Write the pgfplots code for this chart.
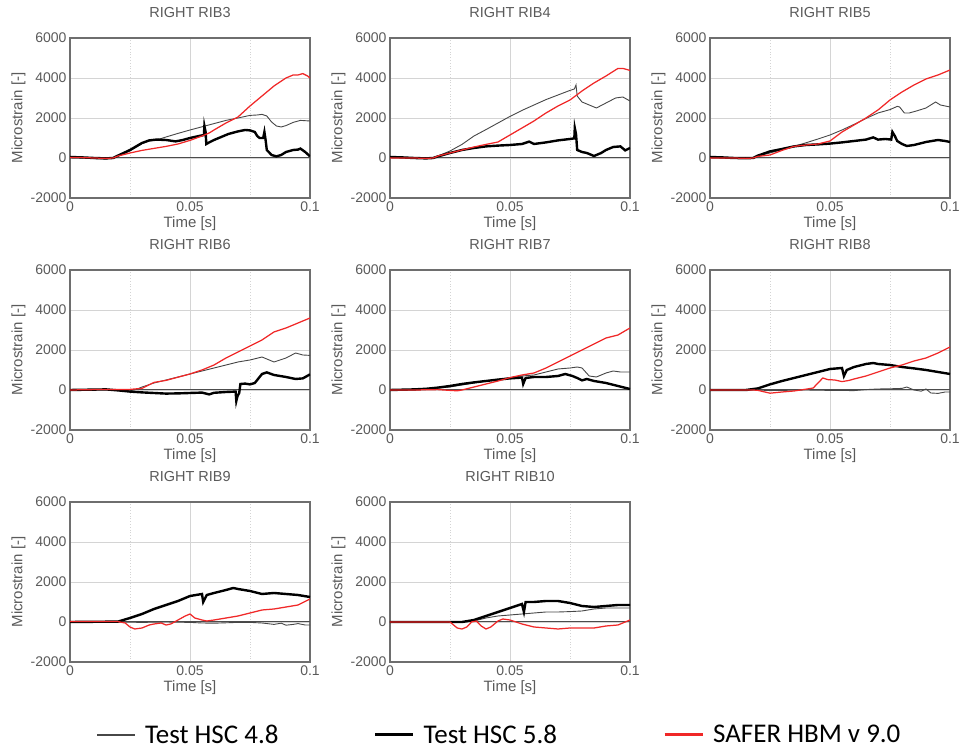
\documentclass[border=0pt]{standalone}
\usepackage{pgfplots}
\pgfplotsset{compat=1.18}
\usepackage{fontspec}
\setmainfont{Liberation Sans}
\newfontfamily\legfont{Carlito}
\definecolor{txtgray}{HTML}{5A5A5A}
\definecolor{framegray}{HTML}{6E6E6E}
\definecolor{gridgray}{HTML}{D4D4D4}
\definecolor{safer}{RGB}{240,40,40}
\pgfplotsset{
  rib/.style={
    scale only axis, width=240pt, height=160pt,
    xmin=0, xmax=0.1, ymin=-2000, ymax=6000,
    xtick={0,0.05,0.1}, xticklabels={0,0.05,0.1},
    ytick={-2000,0,2000,4000,6000}, yticklabels={-2000,0,2000,4000,6000},
    minor x tick num=1,
    major tick length=0pt, minor tick length=0pt,
    grid=both,
    major grid style={gridgray, line width=0.7pt},
    minor grid style={gridgray, line width=0.8pt, dotted},
    extra y ticks={0}, extra y tick labels={},
    extra y tick style={grid=major, major grid style={black!70, line width=1pt}},
    axis line style={framegray, line width=1.3pt},
    tick label style={txtgray, font=\fontsize{14}{16}\selectfont},
    label style={txtgray, font=\fontsize{15}{17}\selectfont},
    title style={txtgray, font=\fontsize{14.5}{17}\selectfont, at={(axis description cs:0.5,1.12)}, anchor=center},
    xlabel={Time [s]}, ylabel={Microstrain [-]},
    xlabel style={at={(axis description cs:0.5,-0.16)}, anchor=center},
    ylabel style={at={(axis description cs:-0.215,0.5)}, anchor=center},
    anchor=south west,
    clip=true,
  },
  thin/.style={draw=black!72, line width=0.9pt},
  thick/.style={draw=black, line width=2.4pt},
  red/.style={draw=safer, line width=1.25pt},
}
\begin{document}
\begin{tikzpicture}
\useasboundingbox (0pt,0pt) rectangle (962pt,751pt);

% ---------- RIGHT RIB3 ----------
\begin{axis}[rib, at={(70pt,553pt)}, title={RIGHT RIB3}]
\addplot[thin] coordinates {(0,0)(0.005,10)(0.01,-30)(0.015,-50)(0.018,0)(0.02,100)(0.025,350)(0.03,720)(0.033,850)(0.036,900)(0.04,1050)(0.045,1230)(0.05,1400)(0.055,1560)(0.06,1720)(0.065,1880)(0.07,2000)(0.075,2130)(0.078,2150)(0.08,2180)(0.082,2100)(0.084,1800)(0.086,1600)(0.088,1550)(0.09,1620)(0.093,1780)(0.096,1880)(0.1,1850)};
\addplot[thick] coordinates {(0,50)(0.005,30)(0.01,0)(0.015,-20)(0.018,0)(0.02,120)(0.025,400)(0.03,750)(0.033,880)(0.036,920)(0.04,900)(0.044,830)(0.047,900)(0.05,1000)(0.053,1080)(0.0558,1150)(0.056,1600)(0.0565,1300)(0.0568,700)(0.058,780)(0.06,900)(0.063,1050)(0.066,1200)(0.07,1330)(0.073,1400)(0.075,1380)(0.077,1300)(0.078,1100)(0.079,1000)(0.0805,1000)(0.081,1300)(0.0815,900)(0.082,400)(0.084,150)(0.086,80)(0.088,150)(0.09,300)(0.093,400)(0.095,420)(0.096,470)(0.098,300)(0.1,80)};
\addplot[red] coordinates {(0,30)(0.005,20)(0.01,0)(0.015,-20)(0.018,0)(0.02,100)(0.025,250)(0.03,380)(0.035,480)(0.04,580)(0.045,700)(0.05,880)(0.055,1100)(0.058,1250)(0.06,1400)(0.065,1750)(0.07,2050)(0.075,2600)(0.08,3100)(0.085,3600)(0.09,4000)(0.093,4150)(0.095,4150)(0.097,4220)(0.099,4100)(0.1,4000)};
\end{axis}

% ---------- RIGHT RIB4 ----------
\begin{axis}[rib, at={(390pt,553pt)}, title={RIGHT RIB4}]
\addplot[thin] coordinates {(0,50)(0.005,20)(0.01,-10)(0.015,-20)(0.018,0)(0.02,100)(0.025,350)(0.03,680)(0.035,1100)(0.04,1420)(0.045,1750)(0.05,2080)(0.055,2380)(0.06,2650)(0.065,2920)(0.07,3150)(0.075,3380)(0.0768,3450)(0.0775,3650)(0.078,3100)(0.08,2800)(0.083,2650)(0.086,2500)(0.09,2750)(0.094,3000)(0.097,3050)(0.1,2850)};
\addplot[thick] coordinates {(0,50)(0.005,30)(0.01,0)(0.015,-20)(0.018,0)(0.02,80)(0.025,250)(0.03,400)(0.035,500)(0.04,580)(0.045,620)(0.05,650)(0.055,700)(0.058,820)(0.06,700)(0.065,780)(0.07,880)(0.075,950)(0.0768,980)(0.077,1500)(0.0775,1200)(0.078,400)(0.08,300)(0.082,250)(0.085,100)(0.088,250)(0.09,400)(0.093,550)(0.096,580)(0.098,380)(0.1,500)};
\addplot[red] coordinates {(0,0)(0.005,0)(0.01,0)(0.015,-20)(0.018,0)(0.02,100)(0.025,250)(0.03,400)(0.035,550)(0.04,680)(0.045,800)(0.05,1150)(0.055,1500)(0.06,1850)(0.065,2250)(0.07,2600)(0.075,2900)(0.08,3350)(0.085,3750)(0.09,4100)(0.095,4480)(0.097,4480)(0.1,4380)};
\end{axis}

% ---------- RIGHT RIB5 ----------
\begin{axis}[rib, at={(710pt,553pt)}, title={RIGHT RIB5}]
\addplot[thin] coordinates {(0,0)(0.01,0)(0.015,-10)(0.018,0)(0.02,100)(0.025,250)(0.03,420)(0.035,580)(0.04,760)(0.045,950)(0.05,1150)(0.055,1400)(0.06,1680)(0.065,1980)(0.07,2250)(0.075,2420)(0.078,2580)(0.079,2550)(0.081,2250)(0.083,2250)(0.086,2350)(0.09,2500)(0.092,2650)(0.094,2800)(0.096,2650)(0.1,2550)};
\addplot[thick] coordinates {(0,50)(0.005,30)(0.01,0)(0.015,-10)(0.018,0)(0.02,120)(0.025,330)(0.03,450)(0.035,580)(0.04,650)(0.045,680)(0.05,720)(0.055,780)(0.06,850)(0.065,920)(0.068,1030)(0.07,920)(0.073,950)(0.0755,920)(0.076,1300)(0.077,1100)(0.078,850)(0.08,700)(0.082,600)(0.085,650)(0.09,800)(0.095,900)(0.098,850)(0.1,800)};
\addplot[red] coordinates {(0,0)(0.01,0)(0.015,-20)(0.018,0)(0.02,80)(0.025,150)(0.03,380)(0.035,580)(0.04,650)(0.045,700)(0.05,850)(0.055,1300)(0.06,1650)(0.065,2000)(0.07,2400)(0.075,2900)(0.08,3300)(0.085,3650)(0.09,3950)(0.095,4150)(0.1,4400)};
\end{axis}

% ---------- RIGHT RIB6 ----------
\begin{axis}[rib, at={(70pt,321pt)}, title={RIGHT RIB6}]
\addplot[thin] coordinates {(0,0)(0.01,20)(0.015,30)(0.02,0)(0.025,-50)(0.028,50)(0.03,150)(0.035,350)(0.04,500)(0.045,650)(0.05,800)(0.055,950)(0.06,1100)(0.065,1250)(0.07,1400)(0.075,1500)(0.08,1650)(0.082,1550)(0.085,1400)(0.09,1600)(0.094,1850)(0.097,1750)(0.1,1730)};
\addplot[thick] coordinates {(0,0)(0.01,20)(0.015,30)(0.02,-20)(0.025,-80)(0.03,-120)(0.035,-150)(0.04,-180)(0.045,-170)(0.05,-150)(0.055,-130)(0.058,-220)(0.06,-140)(0.065,-100)(0.069,-80)(0.0693,-550)(0.0698,-300)(0.0705,-150)(0.071,300)(0.073,320)(0.075,280)(0.077,350)(0.078,500)(0.08,800)(0.082,880)(0.085,750)(0.09,650)(0.094,550)(0.097,580)(0.1,780)};
\addplot[red] coordinates {(0,0)(0.01,20)(0.02,30)(0.025,30)(0.03,80)(0.035,380)(0.04,480)(0.045,640)(0.05,800)(0.055,1000)(0.06,1250)(0.065,1600)(0.07,1900)(0.075,2200)(0.08,2500)(0.085,2900)(0.09,3100)(0.095,3350)(0.1,3600)};
\end{axis}

% ---------- RIGHT RIB7 ----------
\begin{axis}[rib, at={(390pt,321pt)}, title={RIGHT RIB7}]
\addplot[thin] coordinates {(0,0)(0.01,0)(0.02,100)(0.025,150)(0.03,250)(0.035,350)(0.04,450)(0.045,520)(0.05,620)(0.055,700)(0.06,750)(0.065,900)(0.07,1050)(0.075,1100)(0.078,1150)(0.08,1100)(0.083,700)(0.086,650)(0.09,850)(0.093,950)(0.096,900)(0.1,900)};
\addplot[thick] coordinates {(0,0)(0.01,30)(0.015,60)(0.02,120)(0.025,200)(0.03,300)(0.035,380)(0.04,450)(0.045,520)(0.05,580)(0.055,620)(0.0555,300)(0.0565,600)(0.06,650)(0.065,650)(0.07,700)(0.073,800)(0.076,700)(0.078,600)(0.08,480)(0.082,550)(0.085,450)(0.09,350)(0.095,200)(0.1,50)};
\addplot[red] coordinates {(0,0)(0.01,0)(0.02,20)(0.025,-20)(0.028,-40)(0.03,0)(0.035,150)(0.04,300)(0.045,450)(0.05,620)(0.055,750)(0.06,850)(0.065,1100)(0.07,1400)(0.075,1700)(0.08,2000)(0.085,2300)(0.09,2600)(0.095,2750)(0.1,3100)};
\end{axis}

% ---------- RIGHT RIB8 ----------
\begin{axis}[rib, at={(710pt,321pt)}, title={RIGHT RIB8}]
\addplot[thin] coordinates {(0,0)(0.02,0)(0.025,-30)(0.03,-20)(0.04,0)(0.05,-20)(0.06,-30)(0.065,20)(0.07,50)(0.075,60)(0.08,80)(0.082,150)(0.085,0)(0.088,-60)(0.09,50)(0.092,-150)(0.095,-170)(0.098,-100)(0.1,-100)};
\addplot[thick] coordinates {(0,0)(0.015,0)(0.02,80)(0.025,280)(0.03,450)(0.035,600)(0.04,750)(0.045,900)(0.05,1050)(0.055,1100)(0.0558,700)(0.057,1000)(0.06,1150)(0.065,1300)(0.068,1350)(0.07,1300)(0.075,1250)(0.08,1150)(0.085,1080)(0.09,1000)(0.095,900)(0.1,800)};
\addplot[red] coordinates {(0,0)(0.018,0)(0.02,-20)(0.025,-160)(0.03,-100)(0.035,-50)(0.04,40)(0.043,100)(0.045,350)(0.047,600)(0.049,520)(0.052,500)(0.055,420)(0.058,480)(0.06,550)(0.065,700)(0.07,900)(0.075,1100)(0.08,1250)(0.085,1450)(0.09,1600)(0.095,1850)(0.1,2150)};
\end{axis}

% ---------- RIGHT RIB9 ----------
\begin{axis}[rib, at={(70pt,89pt)}, title={RIGHT RIB9}]
\addplot[thin] coordinates {(0,0)(0.02,0)(0.03,-20)(0.04,0)(0.05,-20)(0.055,-50)(0.06,-60)(0.065,-40)(0.07,-20)(0.075,-20)(0.08,-50)(0.085,-120)(0.088,-60)(0.09,-160)(0.093,-120)(0.095,-80)(0.098,-150)(0.1,-150)};
\addplot[thick] coordinates {(0,0)(0.02,20)(0.025,200)(0.03,400)(0.035,650)(0.04,850)(0.045,1050)(0.05,1300)(0.055,1400)(0.0555,1000)(0.057,1350)(0.06,1450)(0.065,1600)(0.068,1700)(0.07,1650)(0.075,1550)(0.08,1400)(0.085,1450)(0.09,1400)(0.095,1350)(0.1,1250)};
\addplot[red] coordinates {(0,30)(0.018,30)(0.02,20)(0.023,-50)(0.025,-250)(0.027,-350)(0.03,-300)(0.033,-150)(0.035,-100)(0.038,-50)(0.04,-150)(0.042,-100)(0.045,100)(0.048,300)(0.05,400)(0.052,200)(0.055,100)(0.057,50)(0.06,100)(0.065,200)(0.07,300)(0.075,450)(0.08,600)(0.085,650)(0.09,750)(0.095,850)(0.1,1150)};
\end{axis}

% ---------- RIGHT RIB10 ----------
\begin{axis}[rib, at={(390pt,89pt)}, title={RIGHT RIB10},
  legend columns=3,
  legend image code/.code={\draw[#1] (0pt,0pt) -- (38pt,0pt); \path (45pt,0pt);},
  legend style={draw=none, fill=none, at={(axis description cs:-1.235,-0.456)}, anchor=west,
    font=\legfont\fontsize{27}{29}\selectfont, text=black,
    /tikz/column 2/.style={column sep=93pt},
    /tikz/column 4/.style={column sep=104pt}},
  ]
\addplot[thin, forget plot] coordinates {(0,0)(0.03,0)(0.035,50)(0.04,200)(0.045,300)(0.05,350)(0.055,400)(0.06,450)(0.065,500)(0.07,500)(0.075,520)(0.08,550)(0.085,650)(0.09,700)(0.095,700)(0.1,700)};
\addplot[thick, forget plot] coordinates {(0,0)(0.03,0)(0.035,100)(0.04,300)(0.045,500)(0.05,700)(0.055,900)(0.0558,500)(0.0565,1000)(0.06,1000)(0.065,1050)(0.07,1050)(0.075,950)(0.08,800)(0.085,750)(0.09,800)(0.095,850)(0.1,850)};
\addplot[red, forget plot] coordinates {(0,0)(0.025,0)(0.026,-100)(0.028,-300)(0.03,-350)(0.032,-250)(0.034,0)(0.036,50)(0.038,-200)(0.04,-350)(0.042,-250)(0.045,50)(0.047,150)(0.05,100)(0.055,-100)(0.06,-250)(0.065,-300)(0.07,-350)(0.075,-300)(0.08,-300)(0.085,-300)(0.09,-200)(0.095,-150)(0.1,100)};
\addlegendimage{draw=black!72, line width=1.3pt}
\addlegendentry{Test HSC 4.8}
\addlegendimage{draw=black, line width=3pt}
\addlegendentry{Test HSC 5.8}
\addlegendimage{draw=safer, line width=3pt}
\addlegendentry{SAFER HBM v 9.0}
\end{axis}
\end{tikzpicture}
\end{document}
